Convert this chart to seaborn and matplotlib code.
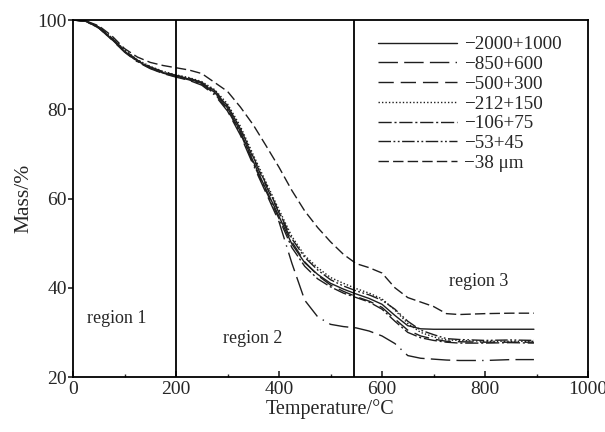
import matplotlib
matplotlib.use("Agg")
import matplotlib.pyplot as plt
import seaborn as sns
import pandas as pd

temps = [0, 25, 50, 75, 100, 125, 150, 175, 200, 225, 250, 275, 300, 325, 350, 375,
         400, 425, 450, 475, 500, 525, 550, 575, 600, 625, 650, 675, 700, 725, 750,
         800, 850, 895]

m_2000_1000 = [100, 99.7, 98.3, 95.8, 93.0, 90.8, 89.3, 88.2, 87.4, 86.8, 85.8, 83.8, 80.3,
               75.0, 68.3, 62.0, 56.0, 49.8, 45.6, 43.0, 41.0, 39.7, 38.6, 37.6, 36.3, 33.8,
               31.5, 30.8, 30.7, 30.7, 30.7, 30.7, 30.7, 30.7]
m_850_600 = [100, 99.7, 98.2, 95.6, 92.8, 90.6, 89.1, 88.0, 87.2, 86.5, 85.4, 83.2, 79.6,
             74.2, 67.5, 61.2, 54.8, 45.5, 37.2, 33.5, 31.8, 31.3, 31.0, 30.3, 29.2, 27.5,
             24.8, 24.2, 24.0, 23.8, 23.7, 23.7, 23.9, 23.9]
m_500_300 = [100, 99.8, 98.4, 96.0, 93.2, 91.0, 89.5, 88.4, 87.6, 87.0, 86.0, 84.2, 80.8,
             75.6, 69.0, 62.8, 56.8, 50.3, 45.8, 42.8, 40.6, 39.2, 38.0, 37.0, 35.6, 33.0,
             30.5, 29.2, 28.5, 28.0, 27.9, 27.8, 27.8, 27.8]
m_212_150 = [100, 99.8, 98.5, 96.1, 93.3, 91.1, 89.6, 88.5, 87.7, 87.1, 86.2, 84.4, 81.2,
             76.2, 69.8, 63.6, 57.5, 51.5, 47.2, 44.5, 42.3, 41.0, 39.8, 38.8, 37.5, 35.0,
             32.0, 30.0, 29.0, 28.3, 28.2, 28.0, 28.0, 28.0]
m_106_75 = [100, 99.7, 98.2, 95.7, 92.9, 90.7, 89.2, 88.1, 87.3, 86.6, 85.6, 83.5, 79.9,
            74.6, 67.9, 61.6, 55.5, 49.0, 44.8, 42.0, 40.2, 38.8, 37.8, 36.8, 35.2, 32.5,
            30.0, 28.8, 28.2, 27.8, 27.6, 27.6, 27.7, 27.6]
m_53_45 = [100, 99.8, 98.4, 96.0, 93.1, 90.9, 89.4, 88.3, 87.5, 86.9, 86.0, 84.0, 80.7,
           75.7, 69.3, 63.2, 57.0, 51.0, 46.8, 44.0, 41.8, 40.4, 39.3, 38.4, 37.2, 35.2,
           32.5, 30.5, 29.5, 28.6, 28.4, 28.2, 28.3, 28.2]
m_38 = [100, 99.8, 98.7, 96.5, 93.6, 91.7, 90.5, 89.8, 89.3, 88.8, 88.0, 86.0, 84.0,
        80.5, 76.5, 71.8, 67.0, 61.8, 57.2, 53.5, 50.3, 47.5, 45.4, 44.5, 43.3, 40.0,
        37.8, 36.8, 35.8, 34.2, 34.0, 34.2, 34.3, 34.3]

labels = ["\u22122000+1000", "\u2212850+600", "\u2212500+300", "\u2212212+150",
          "\u2212106+75", "\u221253+45", "\u221238 \u03bcm"]
series = [m_2000_1000, m_850_600, m_500_300, m_212_150, m_106_75, m_53_45, m_38]

region_labels = ["region 1", "region 2", "region 3"]
region_bounds = [200, 545]

rows = []
for lab, vals in zip(labels, series):
    for t, m in zip(temps, vals):
        rows.append({"Temperature": t, "Mass": m, "Size": lab})
df = pd.DataFrame(rows)

sns.set_style("ticks")
plt.rcParams["font.family"] = ["Liberation Serif", "DejaVu Serif"]
plt.rcParams["mathtext.fontset"] = "stix"

fig = plt.figure(figsize=(6.05, 4.32), dpi=100)
ax = fig.add_axes([73 / 605, 1 - 377 / 432, 515 / 605, 357 / 432])

dash_styles = ["", (14, 4.5, 14, 4.5, 14, 4.5, 1, 4.5), (11, 5), (1, 1.5),
               (9.5, 2, 1.5, 2), (9, 1.8, 1.3, 1.8, 1.3, 1.8), (7.5, 3)]

sns.lineplot(data=df, x="Temperature", y="Mass", style="Size", style_order=labels,
             dashes=dash_styles, color="#1e1e1e", linewidth=1.0, legend=False,
             ax=ax, sort=False, estimator=None)

handles = ax.get_lines()[:len(labels)]
for x in region_bounds:
    ax.axvline(x, color="black", linewidth=1.3)

leg = ax.legend(handles=handles, labels=labels, loc="upper left",
                bbox_to_anchor=((378 - 73) / 515, (377 - 36) / 357),
                frameon=False, fontsize=13.8, handlelength=4.1, handletextpad=0.4,
                labelspacing=0.12, borderpad=0, borderaxespad=0)

ax.text(27, 33.2, region_labels[0], fontsize=13, va="center", ha="left")
ax.text(291, 28.7, region_labels[1], fontsize=13, va="center", ha="left")
ax.text(730, 41.3, region_labels[2], fontsize=13, va="center", ha="left")

ax.set_xlim(0, 1000)
ax.set_ylim(20, 100)
ax.set_xticks([0, 200, 400, 600, 800, 1000])
ax.set_xticks([100, 300, 500, 700, 900], minor=True)
ax.set_yticks([20, 40, 60, 80, 100])
ax.tick_params(axis="x", which="major", direction="in", length=4, width=1.2,
               labelsize=14, pad=3)
ax.tick_params(axis="x", which="minor", direction="in", length=2.5, width=1.0)
ax.tick_params(axis="y", which="major", direction="out", length=3.5, width=1.2,
               labelsize=14, pad=1)
ax.set_xlabel("Temperature/\u00b0C", fontsize=14.5, labelpad=1)
ax.set_ylabel("Mass/%", fontsize=15.5, labelpad=3)
for s in ax.spines.values():
    s.set_visible(True)
    s.set_linewidth(1.3)
    s.set_color("black")

fig.savefig("out.png", dpi=100)
